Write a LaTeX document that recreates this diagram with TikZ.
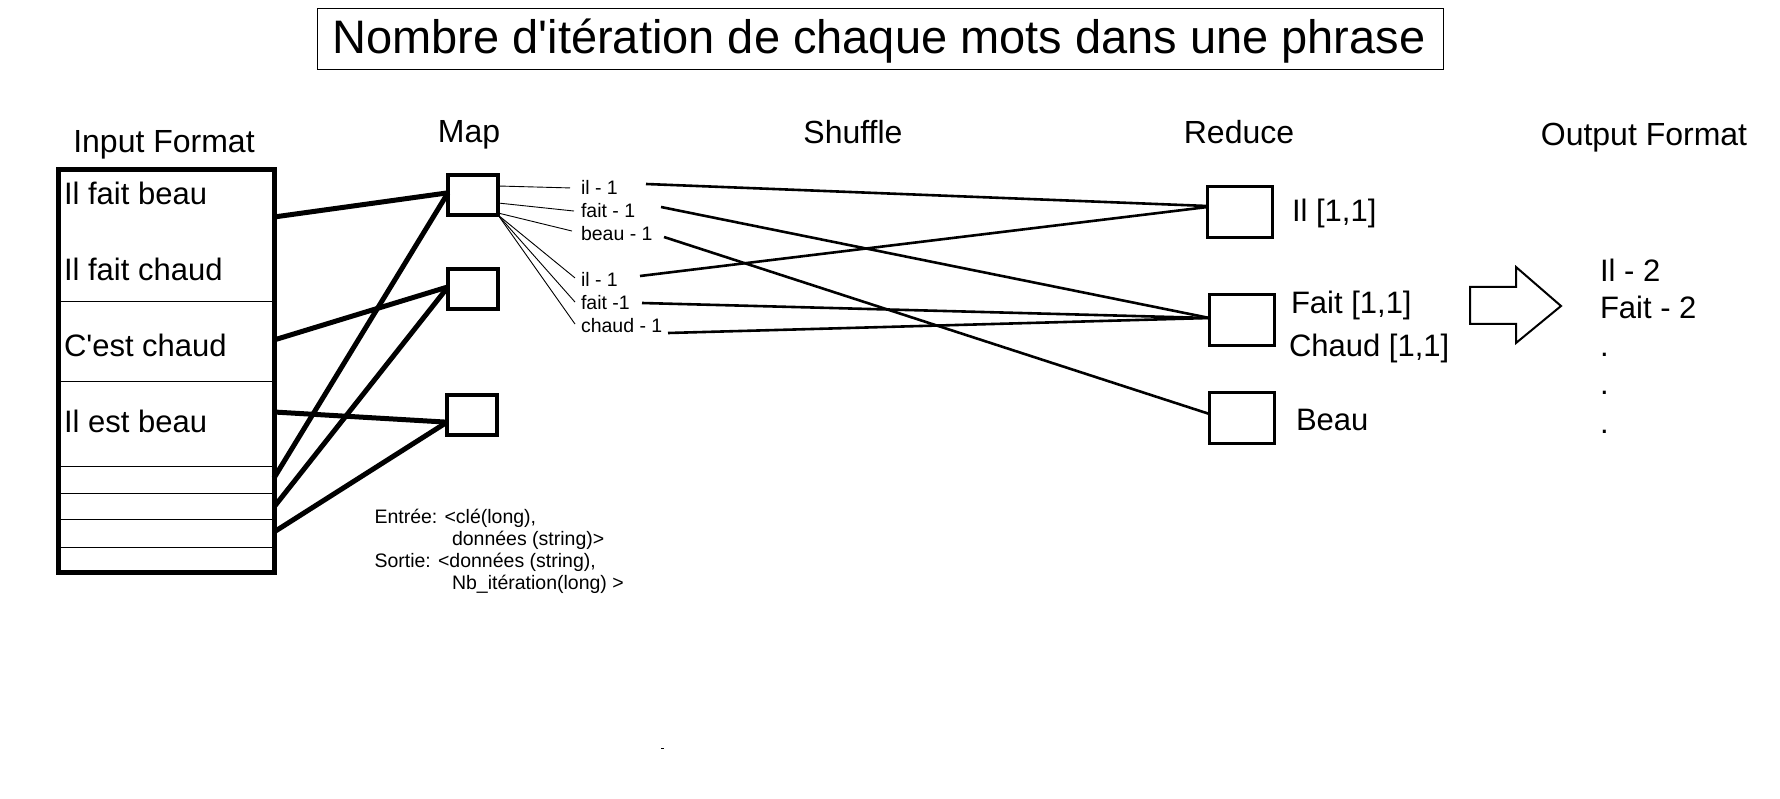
\documentclass[tikz,border=0pt]{standalone}
\usepackage{fontspec}
\setmainfont{Liberation Sans}
\usetikzlibrary{calc}
\begin{document}
\begin{tikzpicture}[x=1pt,y=-1pt,
  big/.style={font=\fontsize{31}{36}\selectfont, inner sep=0, outer sep=0, anchor=base west},
  head/.style={font=\fontsize{32}{38}\selectfont, inner sep=0, outer sep=0, anchor=base},
  small/.style={font=\fontsize{19.5}{23}\selectfont, inner sep=0, outer sep=0, anchor=base west},
  mapbox/.style={draw, line width=4, minimum width=50, minimum height=40, inner sep=0, outer sep=0},
  redbox/.style={draw, line width=3, minimum width=65, minimum height=51, inner sep=0, outer sep=0},
  feed/.style={line width=5},
  thinline/.style={line width=0.9},
  shuf/.style={line width=2.6},
  rowline/.style={line width=1},
]
\useasboundingbox (0,0) rectangle (1780,799);
% title
\node[draw, line width=1, minimum width=1126, minimum height=61, inner sep=0, outer sep=0] (title) at (880,39.5) {};
\node[font=\fontsize{47}{53}\selectfont, inner sep=0, anchor=base] (titletext) at (879,54) {Nombre d\textquotesingle itération de chaque mots dans une phrase};
% headers
\node[head] (hin) at (164,153) {Input Format};
\node[head] (hmap) at (469,143) {Map};
\node[head] (hshuf) at (853,144) {Shuffle};
\node[head] (hred) at (1239,144) {Reduce};
\node[head] (hout) at (1644,146) {Output Format};
% input box
\node[draw, line width=5, minimum width=216, minimum height=402, inner sep=0, outer sep=0, anchor=north west] (inbox) at (58,170) {};
\foreach \yy in {302,382,466,493,519,547}{
  \draw[rowline] ($(inbox.north west)+(0,\yy-170)$) -- ($(inbox.north east)+(0,\yy-170)$);
}
\node[big] (t1) at (64,205) {Il fait beau};
\node[big] (t2) at (64,281) {Il fait chaud};
\node[big] (t3) at (64,357) {C\textquotesingle est chaud};
\node[big] (t4) at (64,432) {Il est beau};
% map boxes
\node[mapbox] (m1) at (473,195) {};
\node[mapbox] (m2) at (473,289.5) {};
\node[mapbox] (m3) at (472,415) {};
% input -> map
\draw[feed] ($(inbox.north east)+(0,47)$) -- (m1.175);
\draw[feed] ($(inbox.north east)+(0,170)$) -- (m2.174);
\draw[feed] ($(inbox.north east)+(0,242)$) -- (m3.196);
\draw[feed] ($(inbox.north east)+(0,308)$) -- (m1.175);
\draw[feed] ($(inbox.north east)+(0,337)$) -- (m2.174);
\draw[feed] ($(inbox.north east)+(0,362)$) -- (m3.196);
% map labels
\node[small] (l1) at (581,195) {il - 1};
\node[small] (l2) at (581,218) {fait - 1};
\node[small] (l3) at (581,241) {beau - 1};
\node[small] (l4) at (581,287) {il - 1};
\node[small] (l5) at (581,310) {fait -1};
\node[small] (l6) at (581,333) {chaud - 1};
\draw[thinline] ($(m1.north east)+(0,11)$) -- ($(l1.west)+(-11,0)$);
\draw[thinline] ($(m1.north east)+(0,28)$) -- ($(l2.west)+(-7,0)$);
\draw[thinline] ($(m1.north east)+(0,38)$) -- ($(l3.west)+(-9,-3)$);
\draw[thinline] (m1.south east) -- ($(l4.west)+(-6,-2)$);
\draw[thinline] (m1.south east) -- ($(l5.west)+(-6,-1)$);
\draw[thinline] (m1.south east) -- ($(l6.west)+(-6,-2)$);
% input/output text for map
\node[small] (e1) at (374.5,523) {Entrée: <clé(long),};
\node[small] (e2) at (452,545) {données (string)>};
\node[small] (e3) at (374.5,567) {Sortie: <données (string),};
\node[small] (e4) at (452,589) {Nb\_itération(long) >};
% reduce boxes
\node[redbox] (r1) at (1240,212) {};
\node[redbox] (r2) at (1242,320) {};
\node[redbox] (r3) at (1242,418) {};
\node[big] (rl1) at (1292,222) {Il [1,1]};
\node[big] (rl2) at (1291,314) {Fait [1,1]};
\node[big] (rl3) at (1289,357) {Chaud [1,1]};
\node[big] (rl4) at (1296,430) {Beau};
% shuffle
\draw[shuf] ($(l1.base west)+(65,-11)$) -- ($(r1.west)+(0,-6)$);
\draw[shuf] ($(l2.base west)+(80,-11)$) -- ($(r2.west)+(0,-2)$);
\draw[shuf] ($(l3.base west)+(83,-4)$) -- ($(r3.west)+(0,-4)$);
\draw[shuf] ($(l4.base west)+(59,-11)$) -- ($(r1.west)+(0,-5)$);
\draw[shuf] ($(l5.base west)+(61,-7)$) -- ($(r2.west)+(0,-2)$);
\draw[shuf] ($(l6.base west)+(87,0)$) -- ($(r2.west)+(0,-2)$);
% block arrow
\draw[line width=2, line join=miter] (1470,287) -- (1516,287) -- (1516,267) -- (1561,306) -- (1516,343) -- (1516,324) -- (1470,324) -- cycle;
% output
\node[big] (o1) at (1600,282) {Il - 2};
\node[big] (o2) at (1600,319) {Fait - 2};
\node[big] (o3) at (1600,357) {.};
\node[big] (o4) at (1600,395) {.};
\node[big] (o5) at (1600,433) {.};
% stray mark
\draw[line width=1] (661,748) -- (664,748);
\end{tikzpicture}
\end{document}
